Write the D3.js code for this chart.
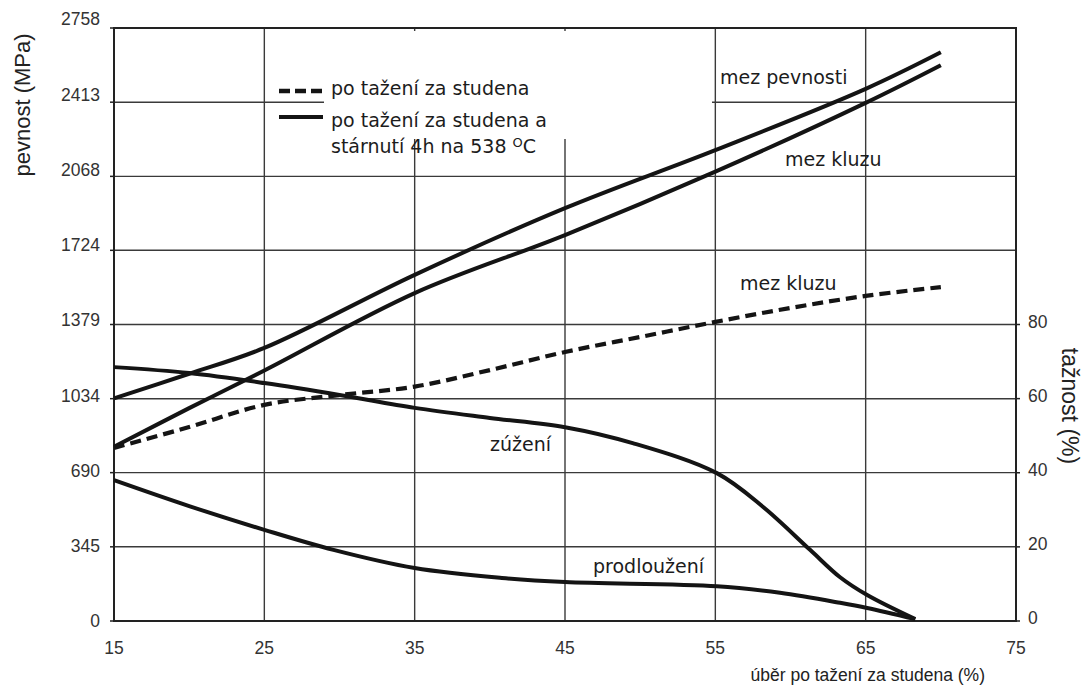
<!DOCTYPE html>
<html>
<head>
<meta charset="utf-8">
<script src="https://cdn.jsdelivr.net/npm/d3@7/dist/d3.min.js"></script>
<style>
  html, body { margin: 0; padding: 0; background: #fff; }
  svg { display: block; }
</style>
</head>
<body>
<svg id="chart" width="1089" height="690"></svg>
<script>
// ---- data ----
const xTicks = [15, 25, 35, 45, 55, 65, 75];
const yTicks = [0, 345, 690, 1034, 1379, 1724, 2068, 2413, 2758];
const pctTicks = [0, 20, 40, 60, 80];

// after cold drawing + ageing 4h at 538 °C : ultimate strength (MPa)
const utsAgedX = [15, 20, 25, 35, 45, 55, 65, 70];
const utsAged  = [1035, 1150, 1270, 1610, 1920, 2190, 2475, 2645];
// after cold drawing + ageing : yield strength (MPa)
const ysAgedX = [15, 20, 25, 35, 45, 55, 65, 70];
const ysAged  = [810, 990, 1165, 1525, 1795, 2090, 2410, 2585];
// after cold drawing : yield strength (MPa), dashed
const ysColdX = [15, 20, 25, 30, 35, 40, 45, 50, 55, 60, 65, 70];
const ysCold  = [805, 902, 1005, 1051, 1090, 1167, 1251, 1321, 1391, 1456, 1512, 1553];
// reduction of area (%)
const raX = [15, 20, 25, 30, 35, 40, 45, 49.5, 55.1, 58.2, 61.3, 63.3, 65.1, 68.3];
const ra  = [68.5, 66.9, 64.2, 61.0, 57.5, 54.8, 52.3, 48.0, 39.9, 30.7, 19.2, 11.8, 7.0, 0.5];
// elongation (%)
const elX = [15, 20, 25, 29.6, 35, 40.8, 45, 55.1, 59.3, 63.3, 65.1, 68.3];
const el  = [38.0, 31.0, 24.6, 19.2, 14.3, 11.6, 10.5, 9.4, 7.6, 4.9, 3.5, 0.5];

// ---- scales ----
const svg = d3.select("#chart");
const x = d3.scaleLinear().domain([15, 75]).range([114, 1016]);
const y = d3.scaleLinear().domain([0, 2758]).range([621, 28]);
const yP = d3.scaleLinear().domain([0, 160]).range([621, 28]);
const yLab = d3.scaleLinear().domain([0, 2758]).range([621, 19]);

const gridColor = "#3a3a3a";
const inkColor = "#141414";
const labelColor = "#333";

// ---- grid ----
const grid = svg.append("g");
grid.selectAll("line.h").data(yTicks.slice(1, -1)).enter().append("line")
  .attr("x1", x(15)).attr("x2", x(75))
  .attr("y1", d => y(d)).attr("y2", d => y(d))
  .attr("stroke", gridColor).attr("stroke-width", 1.4);
grid.selectAll("line.v").data(xTicks.slice(1, -1)).enter().append("line")
  .attr("x1", d => x(d)).attr("x2", d => x(d))
  .attr("y1", y(2758)).attr("y2", y(0))
  .attr("stroke", gridColor).attr("stroke-width", 1.4);

// legend background hides part of grid
svg.append("rect").attr("x", 324).attr("y", 31).attr("width", 388).attr("height", 108).attr("fill", "#fff");

// ---- frame ----
svg.append("rect")
  .attr("x", x(15)).attr("y", y(2758))
  .attr("width", x(75) - x(15)).attr("height", y(0) - y(2758))
  .attr("fill", "none").attr("stroke", "#222").attr("stroke-width", 2);

// small outward ticks
svg.append("g").selectAll("line").data(yTicks).enter().append("line")
  .attr("x1", x(15) - 4).attr("x2", x(15))
  .attr("y1", d => y(d)).attr("y2", d => y(d))
  .attr("stroke", "#222").attr("stroke-width", 1.5);
svg.append("g").selectAll("line").data(pctTicks).enter().append("line")
  .attr("x1", x(75)).attr("x2", x(75) + 4)
  .attr("y1", d => yP(d)).attr("y2", d => yP(d))
  .attr("stroke", "#222").attr("stroke-width", 1.5);

// ---- tick labels ----
const tickFont = "'Liberation Sans', Arial, sans-serif";
svg.append("g").selectAll("text").data(yTicks).enter().append("text")
  .attr("x", 100).attr("y", d => yLab(d)).attr("dy", "0.36em")
  .attr("text-anchor", "end")
  .attr("font-family", tickFont).attr("font-size", 17.5).attr("fill", labelColor)
  .text(d => d);
svg.append("g").selectAll("text").data(xTicks).enter().append("text")
  .attr("x", d => x(d)).attr("y", 648).attr("dy", "0.36em")
  .attr("text-anchor", "middle")
  .attr("font-family", tickFont).attr("font-size", 17.5).attr("fill", labelColor)
  .text(d => d);
svg.append("g").selectAll("text").data(pctTicks).enter().append("text")
  .attr("x", 1028).attr("y", d => yP(d) - 3).attr("dy", "0.36em")
  .attr("text-anchor", "start")
  .attr("font-family", tickFont).attr("font-size", 17.5).attr("fill", labelColor)
  .text(d => d);

// ---- axis titles ----
svg.append("text")
  .attr("transform", "translate(30,105) rotate(-90)")
  .attr("text-anchor", "middle")
  .attr("font-family", tickFont).attr("font-size", 22).attr("fill", "#222")
  .text("pevnost (MPa)");
svg.append("text")
  .attr("transform", "translate(1062,406) rotate(90)")
  .attr("text-anchor", "middle")
  .attr("font-family", tickFont).attr("font-size", 23).attr("fill", "#222")
  .text("tažnost (%)");
svg.append("text")
  .attr("x", 985).attr("y", 681)
  .attr("text-anchor", "end")
  .attr("font-family", tickFont).attr("font-size", 17.5).attr("fill", "#222")
  .text("úběr po tažení za studena (%)");

// ---- curves ----
const mk = (xs, vs) => xs.map((d, i) => [d, vs[i]]);
const smooth = d3.curveCatmullRom.alpha(0.5);
const lineMPa = d3.line().x(d => x(d[0])).y(d => y(d[1])).curve(smooth);
const linePct = d3.line().x(d => x(d[0])).y(d => yP(d[1])).curve(smooth);

const curves = svg.append("g").attr("fill", "none").attr("stroke", inkColor)
  .attr("stroke-linecap", "butt").attr("stroke-linejoin", "round");
curves.append("path").attr("d", lineMPa(mk(utsAgedX, utsAged))).attr("stroke-width", 4);
curves.append("path").attr("d", lineMPa(mk(ysAgedX, ysAged))).attr("stroke-width", 4);
curves.append("path").attr("d", lineMPa(mk(ysColdX, ysCold))).attr("stroke-width", 4.2)
  .attr("stroke-dasharray", "11,6");
curves.append("path").attr("d", linePct(mk(raX, ra))).attr("stroke-width", 4);
curves.append("path").attr("d", linePct(mk(elX, el))).attr("stroke-width", 4);

// ---- annotations ----
const annFont = "'DejaVu Sans', Verdana, sans-serif";
const ann = svg.append("g").attr("font-family", annFont).attr("font-size", 19).attr("fill", "#1c1c1c");
ann.append("text").attr("x", 720).attr("y", 84).text("mez pevnosti");
ann.append("text").attr("x", 785).attr("y", 166).text("mez kluzu");
ann.append("text").attr("x", 740).attr("y", 290).text("mez kluzu");
ann.append("text").attr("x", 490).attr("y", 451).text("zúžení");
ann.append("text").attr("x", 593).attr("y", 573).text("prodloužení");

// ---- legend ----
const leg = svg.append("g");
leg.append("line").attr("x1", 279).attr("x2", 323).attr("y1", 91).attr("y2", 91)
  .attr("stroke", inkColor).attr("stroke-width", 4.5).attr("stroke-dasharray", "11,5");
leg.append("line").attr("x1", 279).attr("x2", 323).attr("y1", 117).attr("y2", 117)
  .attr("stroke", inkColor).attr("stroke-width", 4);
const lt = leg.append("g").attr("font-family", annFont).attr("font-size", 19).attr("fill", "#1c1c1c");
lt.append("text").attr("x", 331).attr("y", 95).text("po tažení za studena");
lt.append("text").attr("x", 331).attr("y", 127).text("po tažení za studena a");
const l3 = lt.append("text").attr("x", 331).attr("y", 153);
l3.append("tspan").text("stárnutí 4h na 538 ");
l3.append("tspan").attr("font-size", 13).attr("dy", -6).text("O");
l3.append("tspan").attr("dy", 6).text("C");
</script>
</body>
</html>
